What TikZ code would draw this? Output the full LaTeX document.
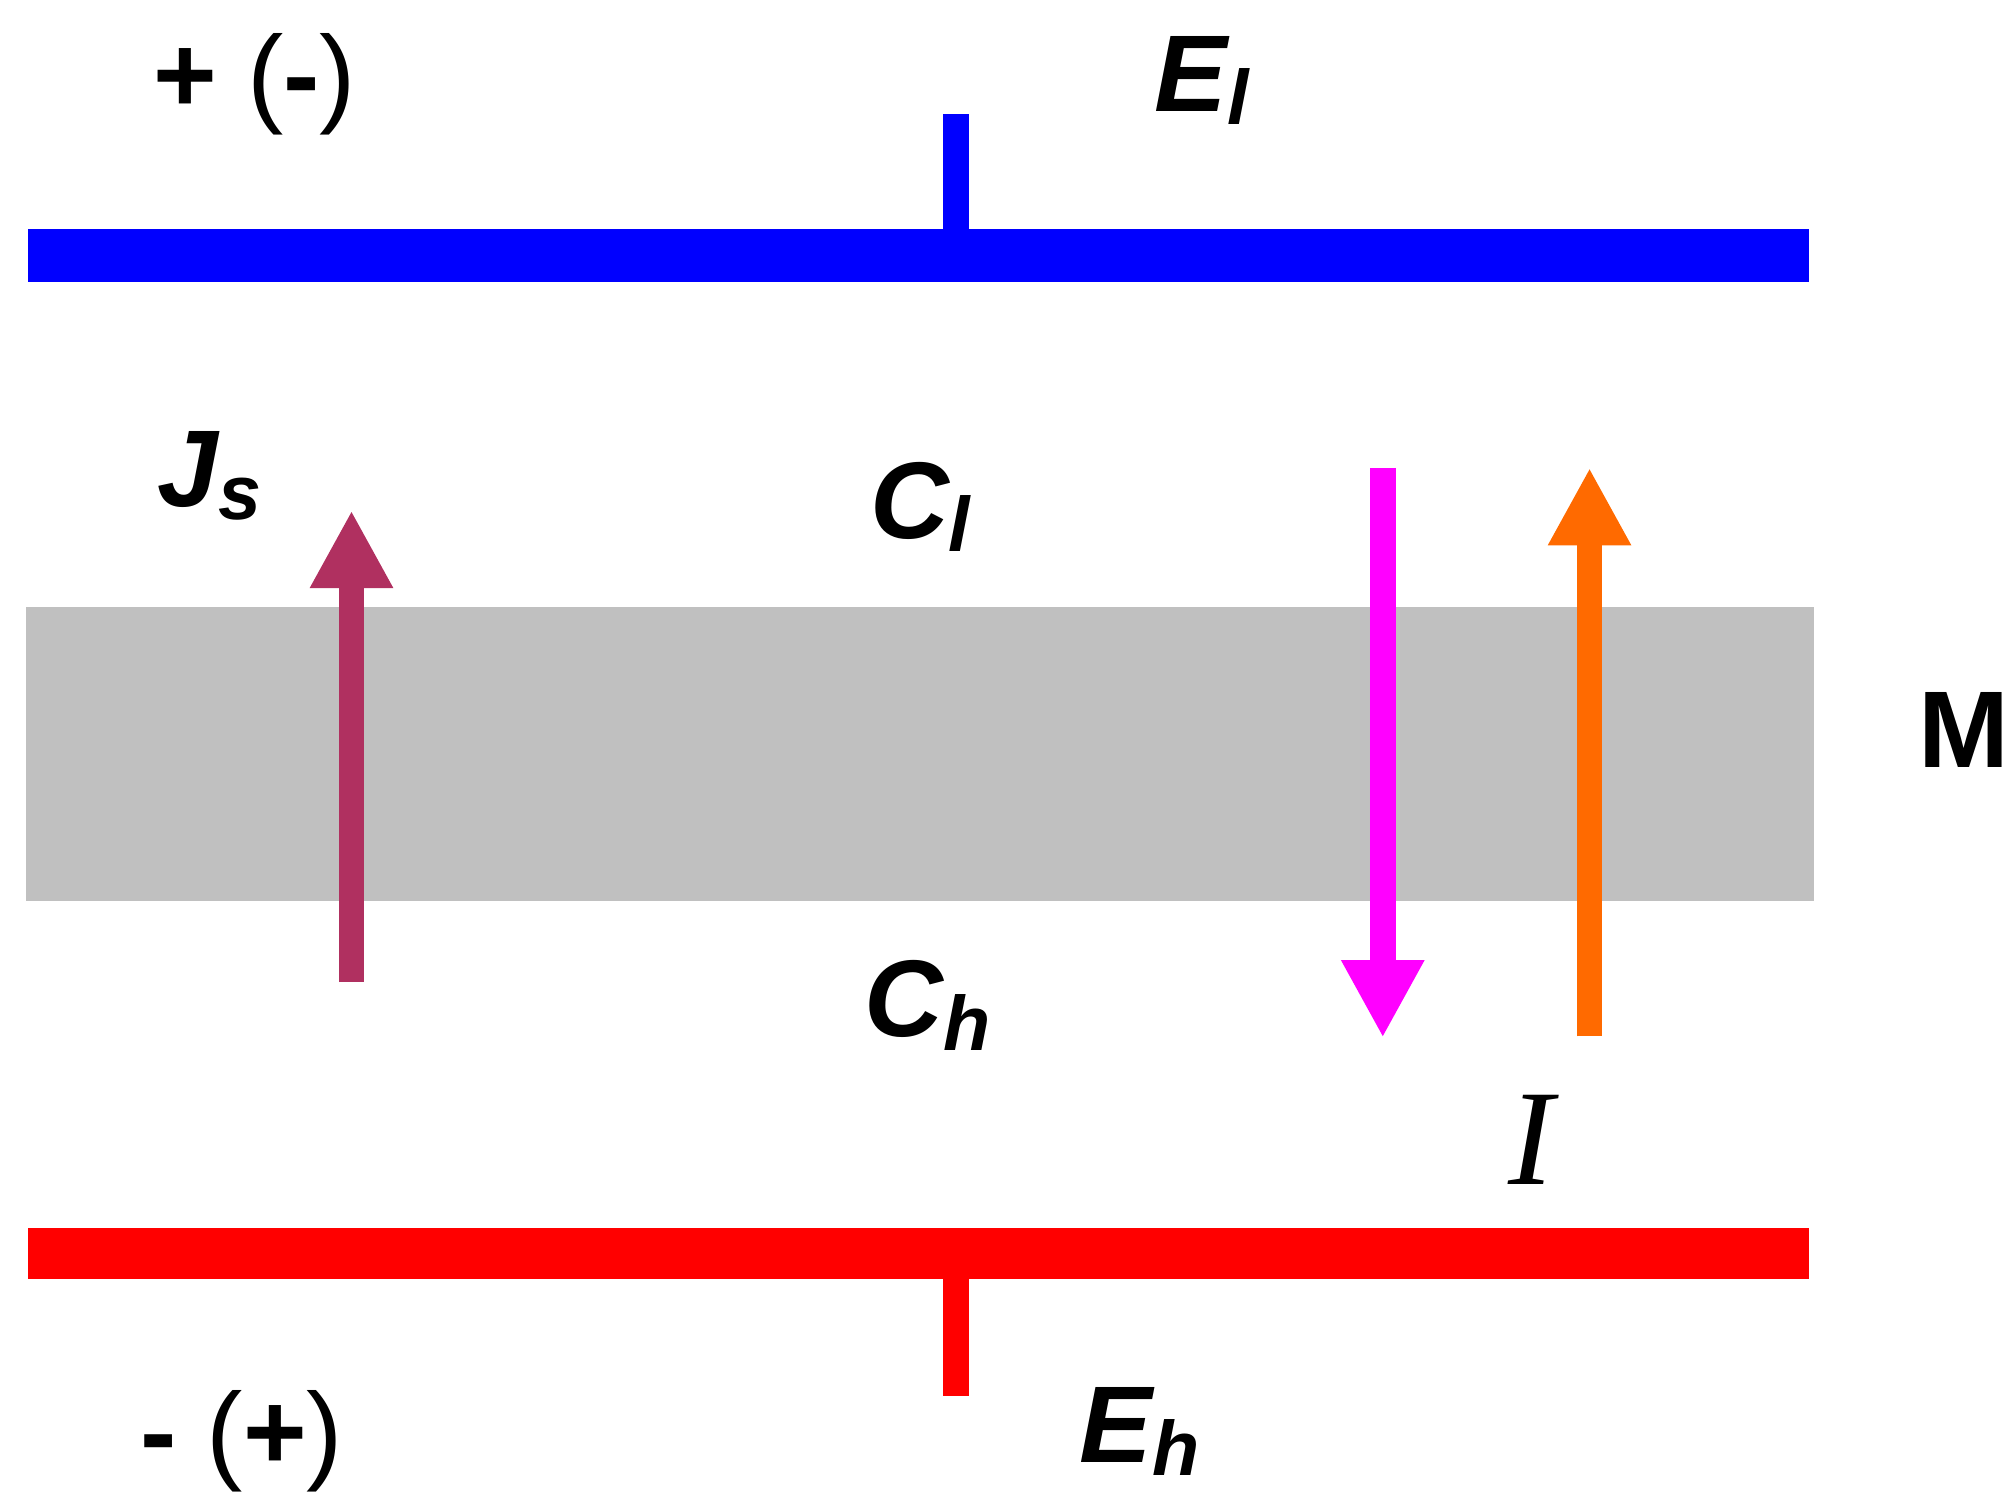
\documentclass[tikz,border=0pt]{standalone}
\usepackage{fontspec}
\setmainfont{Liberation Sans}
\usetikzlibrary{arrows.meta}
\definecolor{jsc}{HTML}{B03060}
\definecolor{orc}{HTML}{FF6A00}
\definecolor{mag}{HTML}{FF00FF}
\definecolor{gry}{HTML}{C0C0C0}
\newcommand{\lsub}[1]{\raisebox{-0.12em}{\fontsize{17}{20}\selectfont #1}}
\tikzset{lbl/.style={font=\fontsize{24}{28}\selectfont\bfseries\itshape},
 plain/.style={font=\fontsize{24}{28}\selectfont\bfseries},
 flux/.style={line width=0.2cm,-{Triangle[length=0.6cm,width=0.6cm]}}}
\begin{document}
\begin{tikzpicture}[x=0.01cm,y=-0.01cm]
\useasboundingbox (0,0) rectangle (1560,1161);
\fill[gry] (20,470) rectangle (1404,697);
\fill[blue] (22,177) rectangle (1400,218);
\fill[blue] (730,88) rectangle (750,177);
\fill[red] (22,950) rectangle (1400,990);
\fill[red] (730,990) rectangle (750,1080);
\coordinate (js0) at (272,760); \coordinate (js1) at (272,395);
\coordinate (m0) at (1070,362); \coordinate (m1) at (1070,803);
\coordinate (o0) at (1230,802); \coordinate (o1) at (1230,362);
\draw[flux,jsc] (js0) -- (js1);
\draw[flux,mag] (m0) -- (m1);
\draw[flux,orc] (o0) -- (o1);
\node[plain] (pl) at (197,65) {+ {\mdseries(}-{\mdseries)}};
\node[plain] (mi) at (187,1115) {- {\mdseries(}+{\mdseries)}};
\node[lbl] (el) at (930,62) {E\lsub{l}};
\node[lbl] (eh) at (882,1108) {E\lsub{h}};
\node[lbl] (js) at (162,368) {J\lsub{s}};
\node[lbl] (cl) at (712,392) {C\lsub{l}};
\node[lbl] (ch) at (718,778) {C\lsub{h}};
\node[plain] (m) at (1520,565) {M};
\node[font=\fontsize{30}{34}\selectfont] (i) at (1185,882) {\fontspec{Liberation Serif}\itshape I};
\end{tikzpicture}
\end{document}
